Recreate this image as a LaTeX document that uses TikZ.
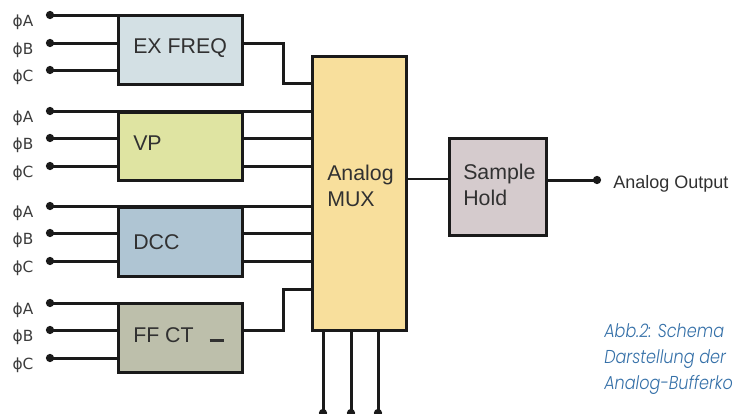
\documentclass[tikz,border=0pt]{standalone}
\usepackage{fontspec}
\setmainfont{Liberation Sans}
\newfontfamily\phifont{DejaVu Sans}
\newfontfamily\capfont{Poppins Light}[ItalicFont={Poppins Light Italic},FakeStretch=0.86]
\definecolor{exfill}{HTML}{D3E0E4}
\definecolor{vpfill}{HTML}{DFE4A2}
\definecolor{dccfill}{HTML}{AFC5D3}
\definecolor{fffill}{HTML}{BDBFAB}
\definecolor{muxfill}{HTML}{F8DF9C}
\definecolor{shfill}{HTML}{D5CBCD}
\definecolor{capblue}{HTML}{3570A8}
\definecolor{ink}{HTML}{1A1A1A}
\begin{document}
\begin{tikzpicture}[x=0.75pt,y=-0.75pt,
  wire/.style={draw=ink,line width=2.25pt},
  box/.style={draw=ink,line width=2.25pt,inner sep=0pt},
  btext/.style={anchor=west,inner sep=0pt,text=ink!90,font=\fontsize{16}{19.5}\selectfont,align=left},
  dot/.style={circle,fill=ink,inner sep=0pt,minimum size=6.2pt},
  philbl/.style={inner sep=0pt,text=ink!85,font=\phifont\fontsize{11.5}{13}\selectfont}]
\useasboundingbox (0,0) rectangle (733,414);
\clip (0,0) rectangle (733,414);
% boxes
\node[box,fill=exfill,minimum width=93pt,minimum height=51.75pt] (ex) at (180,49.5) {};
\node[box,fill=vpfill,minimum width=93pt,minimum height=51pt] (vp) at (180,146) {};
\node[box,fill=dccfill,minimum width=93pt,minimum height=51.75pt] (dcc) at (180,241.5) {};
\node[box,fill=fffill,minimum width=93pt,minimum height=51.75pt] (ff) at (180,337.5) {};
\node[box,fill=muxfill,minimum width=70.5pt,minimum height=205.5pt] (mux) at (359,193) {};
\node[box,fill=shfill,minimum width=72.75pt,minimum height=72.75pt] (sh) at (497.5,186.5) {};
% box texts
\node[btext] (extx) at (133,48) {EX FREQ};
\node[btext] (vptx) at (133,143) {VP};
\node[btext] (dcctx) at (133,242) {DCC};
\node[btext] (fftx) at (133,335) {FF CT\hspace{0.75em}\rule{11pt}{2.2pt}};
\node[btext] (muxtx) at (327,186) {Analog\\MUX};
\node[btext] (shtx) at (463,185) {Sample\\Hold};
% input dots and labels
\foreach \g/\ya/\yb/\yc in {1/15/43/70, 2/111/138/166, 3/206/233/261, 4/303/330/358}{
  \node[dot] (a\g) at (50,\ya) {};
  \node[dot] (b\g) at (50,\yb) {};
  \node[dot] (c\g) at (50,\yc) {};
  \node[philbl] (la\g) at (23,\ya+7) {ϕA};
  \node[philbl] (lb\g) at (23,\yb+7) {ϕB};
  \node[philbl] (lc\g) at (23,\yc+7) {ϕC};
}
% inputs to boxes
\draw[wire] (a1.center) -- (a1 -| ex.west);
\draw[wire] (b1.center) -- (b1 -| ex.west);
\draw[wire] (c1.center) -- (c1 -| ex.west);
\draw[wire] (a2.center) -- (a2 -| mux.west);
\draw[wire] (b2.center) -- (b2 -| vp.west);
\draw[wire] (c2.center) -- (c2 -| vp.west);
\draw[wire] (a3.center) -- (a3 -| mux.west);
\draw[wire] (b3.center) -- (b3 -| dcc.west);
\draw[wire] (c3.center) -- (c3 -| dcc.west);
\draw[wire] (a4.center) -- (a4 -| ff.west);
\draw[wire] (b4.center) -- (b4 -| ff.west);
\draw[wire] (c4.center) -- (c4 -| ff.west);
% outputs to mux
\coordinate (j1) at (283,83);
\coordinate (j4) at (283,289);
\draw[wire] (b1 -| ex.east) -| (j1) -- (j1 -| mux.west);
\draw[wire] (b2 -| vp.east) -- (b2 -| mux.west);
\draw[wire] (c2 -| vp.east) -- (c2 -| mux.west);
\draw[wire] (b3 -| dcc.east) -- (b3 -| mux.west);
\draw[wire] (c3 -| dcc.east) -- (c3 -| mux.west);
\draw[wire] (b4 -| ff.east) -| (j4) -- (j4 -| mux.west);
% mux bottom control lines
\foreach \i/\x in {1/323,2/351,3/378}{
  \node[dot] (s\i) at (\x,413) {};
  \draw[wire] (s\i.center) -- (s\i |- mux.south);
}
% mux to sample hold
\coordinate (mo) at (406,179);
\draw[wire,line width=2pt] (mo -| mux.east) -- (mo -| sh.west);
\node[dot] (out) at (597,180) {};
\draw[wire] (out -| sh.east) -- (out.center);
\node[anchor=west,inner sep=0pt,text=ink!90,font=\fontsize{13.5}{16}\selectfont] (outtx) at (613,184) {Analog Output};
% caption
\node[anchor=west,inner sep=0pt,align=left,text=capblue,font=\capfont\itshape\fontsize{14}{19.5}\selectfont] (cap) at (604,359) {Abb.2: Schema\\Darstellung der\\Analog-Bufferko};
\end{tikzpicture}
\end{document}
